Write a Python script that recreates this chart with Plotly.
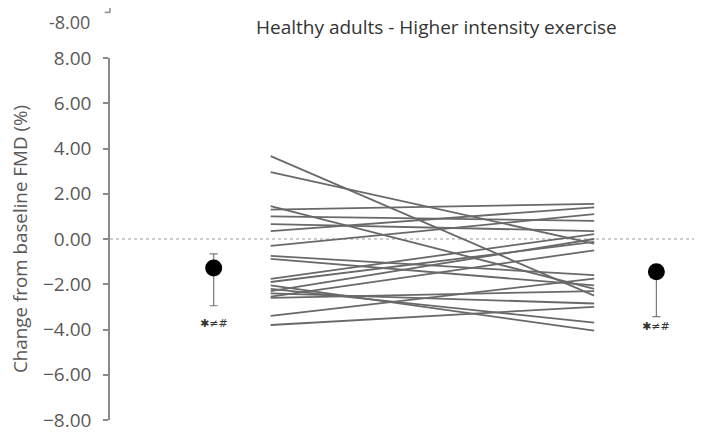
import plotly.graph_objects as go

# ---- data ----
title_text = "Healthy adults - Higher intensity exercise"
y_title = "Change from baseline FMD (%)"
y_ticks = [8, 6, 4, 2, 0, -2, -4, -6, -8]

# individual participants: change at first and second timepoint
pre_values = [3.66, 2.96, 1.45, 1.30, 1.00, 0.66, 0.35, -0.30, -0.75, -0.88,
              -1.76, -1.90, -2.30, -2.40, -2.55, -3.40, -3.80, -2.05, -2.20, -2.60]
post_values = [-2.50, -0.20, -2.20, 1.55, 0.80, 0.35, 1.40, 1.10, -1.60, -2.05,
               0.22, -0.13, 0.00, -2.85, -0.50, -1.75, -3.00, -4.05, -3.70, -2.30]

mean_pre = -1.28
mean_pre_err_up = 0.62
mean_pre_err_down = 1.67
mean_post = -1.45
mean_post_err_up = 0.30
mean_post_err_down = 1.98
sig_label = "✱≠#"
sig_label_y = [-3.74, -3.87]

# x positions of the groups
x_mean_pre, x_line_pre, x_line_post, x_mean_post = 1.0, 1.55, 4.67, 5.27

FONT = "Open Sans"

fig = go.Figure()

for a, b in zip(pre_values, post_values):
    fig.add_trace(go.Scatter(x=[x_line_pre, x_line_post], y=[a, b], mode="lines",
                             line=dict(color="#696969", width=1.8),
                             showlegend=False, hoverinfo="skip"))

for (xm, m, up, dn), ly in zip([(x_mean_pre, mean_pre, mean_pre_err_up, mean_pre_err_down),
                                (x_mean_post, mean_post, mean_post_err_up, mean_post_err_down)],
                               sig_label_y):
    fig.add_trace(go.Scatter(
        x=[xm], y=[m], mode="markers",
        marker=dict(color="black", size=17),
        error_y=dict(type="data", symmetric=False, array=[up], arrayminus=[dn],
                     color="#7a7a7a", thickness=1.2, width=4),
        showlegend=False))
    fig.add_annotation(x=xm, y=ly, text=sig_label, showarrow=False, yanchor="middle",
                       font=dict(size=11, color="#333333", family="DejaVu Sans"))

# dotted zero line
fig.add_shape(type="line", xref="paper", yref="y", x0=0, x1=1, y0=0, y1=0,
              line=dict(color="#9a9a9a", width=1, dash="dot"), layer="below")

# leftover fragment of the panel above
fig.add_shape(type="line", xref="paper", yref="paper", x0=0, x1=0, y0=1.126, y1=1.2,
              line=dict(color="#8a8a8a", width=1.5))
fig.add_shape(type="line", xref="paper", yref="paper", x0=-0.009, x1=0, y0=1.126, y1=1.126,
              line=dict(color="#8a8a8a", width=1.5))
fig.add_annotation(xref="paper", yref="paper", x=-0.03, y=1.137, xanchor="right",
                   yanchor="top", text="-8.00", showarrow=False,
                   font=dict(size=18, color="#595959", family=FONT))

fig.add_annotation(xref="paper", yref="paper", x=0.552, y=1.085, text=title_text,
                   showarrow=False, xanchor="center", yanchor="middle",
                   font=dict(size=19, color="#333333", family=FONT))

fig.add_annotation(xref="paper", yref="paper", x=-0.152, y=0.5, text=y_title,
                   textangle=-90, showarrow=False, xanchor="center", yanchor="middle",
                   font=dict(size=18.8, color="#595959", family=FONT))

fig.update_layout(
    width=694, height=425,
    margin=dict(l=102, r=0, t=50, b=11),
    paper_bgcolor="white", plot_bgcolor="white",
    font=dict(family=FONT, color="#595959", size=19),
    xaxis=dict(range=[0, 5.71], visible=False, fixedrange=True),
    yaxis=dict(range=[-8, 8], tickvals=y_ticks, tickformat=".2f",
               showgrid=False, zeroline=False, showline=True,
               linecolor="#8a8a8a", linewidth=1.5,
               ticks="outside", ticklen=5, tickcolor="#8a8a8a", tickwidth=1.5,
               ticklabelstandoff=8, ticklabeloverflow="allow"),
)

fig.write_html("out.html")
